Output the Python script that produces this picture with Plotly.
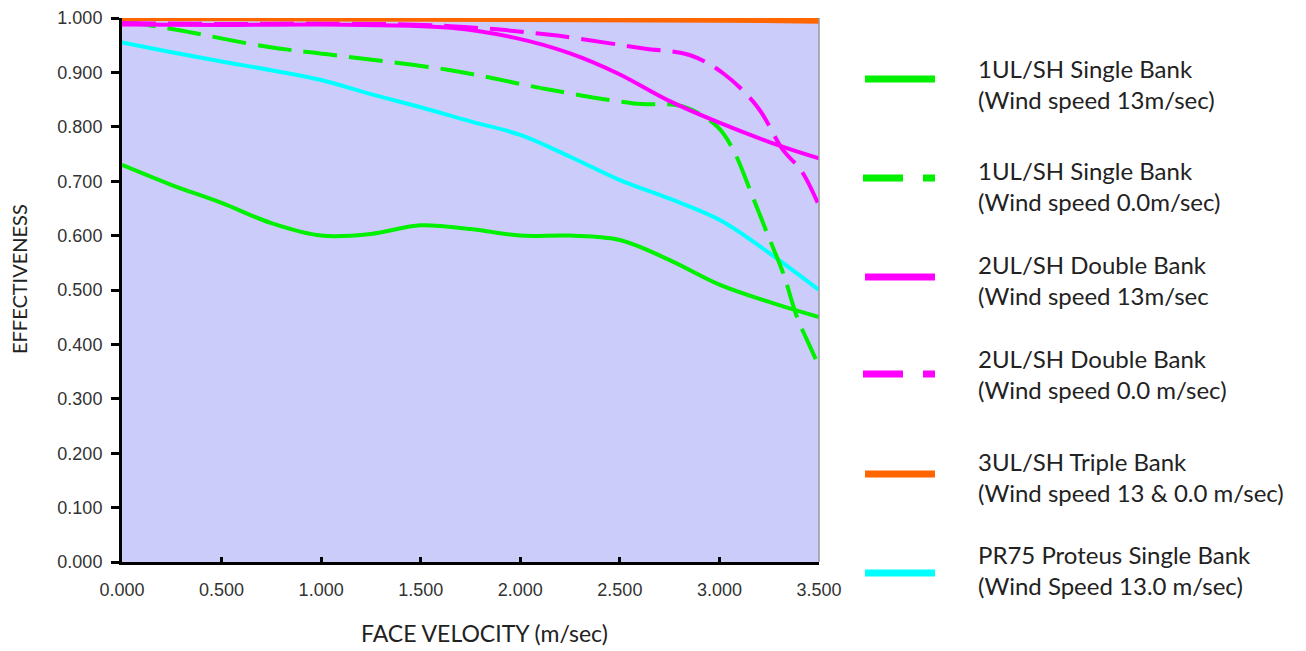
import plotly.graph_objects as go

# ---- data ----
x_std = [0.0, 0.25, 0.5, 0.75, 1.0, 1.25, 1.5, 1.75, 2.0, 2.25, 2.5, 2.75, 3.0, 3.25, 3.5]

ul1_13 = [0.730, 0.693, 0.660, 0.623, 0.600, 0.603, 0.619, 0.612, 0.600, 0.600, 0.592, 0.555, 0.510, 0.478, 0.450]

x_ul1_0 = [0.0, 0.28, 0.73, 1.06, 1.65, 2.15, 2.57, 2.82, 2.99, 3.07, 3.16, 3.24, 3.32, 3.39, 3.45, 3.5]
ul1_0 = [0.995, 0.978, 0.947, 0.932, 0.904, 0.868, 0.843, 0.837, 0.800, 0.757, 0.678, 0.604, 0.531, 0.450, 0.400, 0.360]

x_ul2_13 = [0.0, 0.5, 1.0, 1.65, 1.98, 2.25, 2.49, 2.74, 2.99, 3.32, 3.5]
ul2_13 = [0.988, 0.987, 0.988, 0.982, 0.963, 0.935, 0.898, 0.849, 0.809, 0.763, 0.742]

x_ul2_0 = [0.0, 0.5, 1.0, 1.65, 2.15, 2.62, 2.85, 3.02, 3.19, 3.32, 3.41, 3.5]
ul2_0 = [0.991, 0.989, 0.990, 0.985, 0.969, 0.944, 0.932, 0.898, 0.837, 0.757, 0.720, 0.655]

x_ul3 = [0.0, 1.0, 2.0, 3.0, 3.5]
ul3 = [1.000, 0.999, 0.998, 0.997, 0.995]

pr75 = [0.955, 0.937, 0.920, 0.904, 0.886, 0.860, 0.836, 0.810, 0.785, 0.745, 0.702, 0.668, 0.629, 0.568, 0.500]

x_ticks = [0.0, 0.5, 1.0, 1.5, 2.0, 2.5, 3.0, 3.5]
y_ticks = [0.0, 0.1, 0.2, 0.3, 0.4, 0.5, 0.6, 0.7, 0.8, 0.9, 1.0]

names = [
    "1UL/SH Single Bank<br>(Wind speed 13m/sec)",
    "1UL/SH Single Bank<br>(Wind speed 0.0m/sec)",
    "2UL/SH Double Bank<br>(Wind speed 13m/sec",
    "2UL/SH Double Bank<br>(Wind speed 0.0 m/sec)",
    "3UL/SH Triple Bank<br>(Wind speed 13 & 0.0 m/sec)",
    "PR75 Proteus Single Bank<br>(Wind Speed 13.0 m/sec)",
]

GREEN = "#00f000"
MAGENTA = "#ff00ff"
ORANGE = "#ff6600"
CYAN = "#00ffff"

# page has an 8px body margin, so the figure is drawn 8px smaller
W, H = 1298, 643
L, R, T, B = 114, 487, 10, 89
PW, PH = W - L - R, H - T - B

# helpers: reference-image pixel -> paper coordinates
def px_x(px):
    return (px - 122) / PW

def px_y(py):
    return (562 - py) / PH

DASH = "34px,12px"

fig = go.Figure()

fig.add_trace(go.Scatter(x=x_std, y=pr75, mode="lines", name=names[5],
                         line=dict(color=CYAN, width=4, shape="spline")))
fig.add_trace(go.Scatter(x=x_std, y=ul1_13, mode="lines", name=names[0],
                         line=dict(color=GREEN, width=4, shape="spline")))
fig.add_trace(go.Scatter(x=x_ul1_0, y=ul1_0, mode="lines", name=names[1],
                         line=dict(color=GREEN, width=4, shape="spline", dash=DASH)))
fig.add_trace(go.Scatter(x=x_ul2_13, y=ul2_13, mode="lines", name=names[2],
                         line=dict(color=MAGENTA, width=4, shape="spline")))
fig.add_trace(go.Scatter(x=x_ul2_0, y=ul2_0, mode="lines", name=names[3],
                         line=dict(color=MAGENTA, width=4, shape="spline", dash=DASH)))
fig.add_trace(go.Scatter(x=x_ul3, y=ul3, mode="lines", name=names[4], cliponaxis=False,
                         line=dict(color=ORANGE, width=6, shape="spline")))

# manual legend (positions in reference pixels)
LEG_DASH = "40px,20px,12px,200px"
leg = [
    (names[0], GREEN, "solid", 79, 84),
    (names[1], GREEN, LEG_DASH, 178, 186),
    (names[2], MAGENTA, "solid", 277, 280),
    (names[3], MAGENTA, LEG_DASH, 374, 374),
    (names[4], ORANGE, "solid", 474, 477),
    (names[5], CYAN, "solid", 573, 570),
]
shapes = []
annotations = []
for name, col, dash, ly, ty in leg:
    x0 = 863 if dash != "solid" else 865
    shapes.append(dict(type="line", xref="paper", yref="paper",
                       x0=px_x(x0), x1=px_x(935), y0=px_y(ly), y1=px_y(ly),
                       line=dict(color=col, width=7, dash=dash)))
    annotations.append(dict(xref="paper", yref="paper", x=px_x(976), y=px_y(ty),
                            xanchor="left", yanchor="middle", align="left",
                            text=name, showarrow=False,
                            font=dict(family="Lato, Open Sans, sans-serif", size=24, color="#222222")))

# axis titles
annotations.append(dict(xref="paper", yref="paper", x=px_x(484), y=px_y(633),
                        xanchor="center", yanchor="middle", showarrow=False,
                        text="FACE VELOCITY (m/sec)",
                        font=dict(family="Lato, Open Sans, sans-serif", size=23, color="#222222")))
annotations.append(dict(xref="paper", yref="paper", x=px_x(19), y=px_y(279),
                        xanchor="center", yanchor="middle", showarrow=False, textangle=-90,
                        text="EFFECTIVENESS",
                        font=dict(family="Lato, Open Sans, sans-serif", size=20, color="#222222")))

# right border of plot area
shapes.append(dict(type="line", xref="paper", yref="paper", x0=1, x1=1, y0=0, y1=1,
                   line=dict(color="#999999", width=1.5)))

tickfont = dict(family="Liberation Sans, Arial, sans-serif", size=18, color="#333333")

fig.update_layout(
    width=W, height=H,
    margin=dict(l=L, r=R, t=T, b=B, autoexpand=False),
    paper_bgcolor="white",
    plot_bgcolor="#ccccfa",
    showlegend=False,
    shapes=shapes,
    annotations=annotations,
    xaxis=dict(
        range=[0, 3.5], tickvals=x_ticks, ticktext=[f"{v:.3f}" for v in x_ticks],
        showgrid=False, zeroline=False, showline=True, linecolor="black", linewidth=3,
        ticks="inside", ticklen=5, tickwidth=3, tickcolor="black",
        ticklabelstandoff=9, tickfont=tickfont,
    ),
    yaxis=dict(
        range=[0, 1.0], tickvals=y_ticks, ticktext=[f"{v:.3f}" for v in y_ticks],
        showgrid=False, zeroline=False, showline=True, linecolor="black", linewidth=3,
        ticks="outside", ticklen=8, tickwidth=3, tickcolor="black",
        ticklabelstandoff=5, tickfont=tickfont,
    ),
)

fig.write_html("out.html")
